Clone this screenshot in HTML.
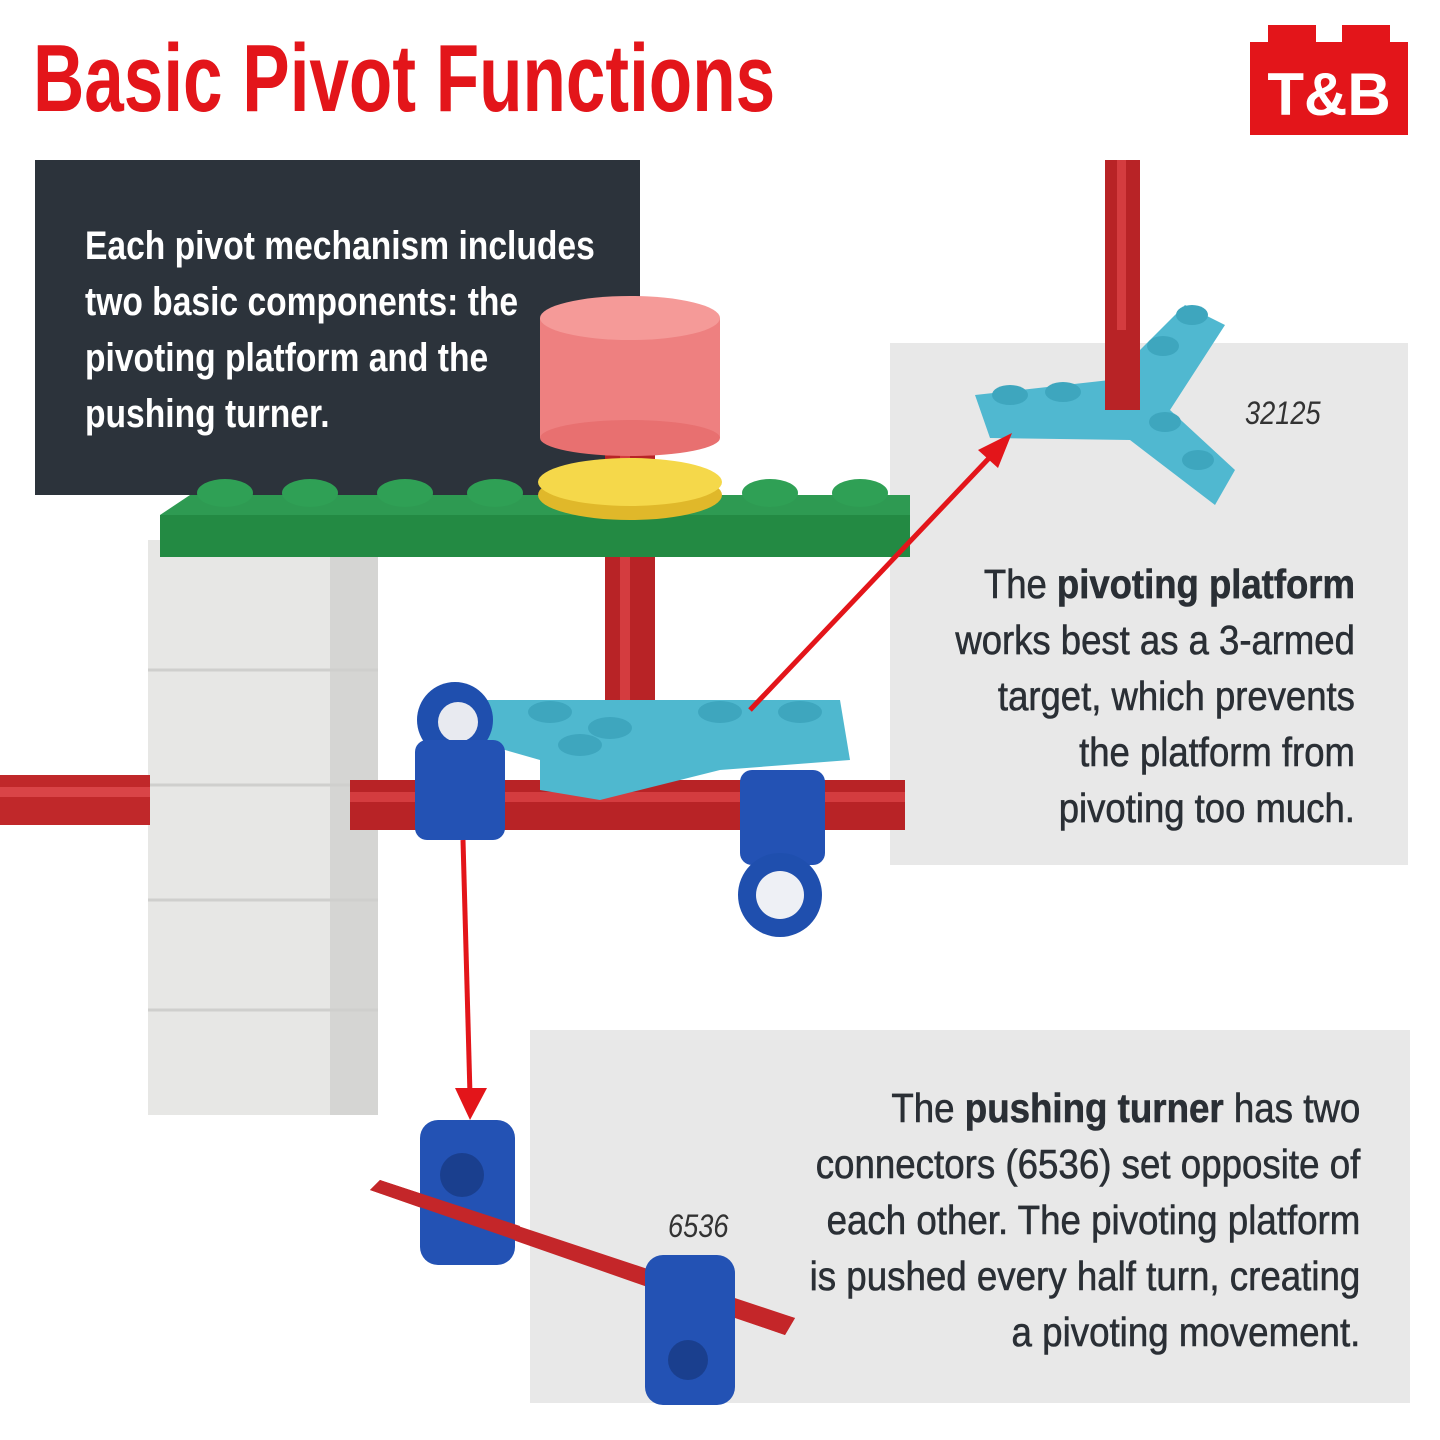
<!DOCTYPE html>
<html><head><meta charset="utf-8"><style>
html,body{margin:0;padding:0;background:#fff;}
body{width:1440px;height:1440px;position:relative;overflow:hidden;font-family:"Liberation Sans",sans-serif;}
.t{position:absolute;white-space:nowrap;}
#title{left:33px;top:24px;font-size:96px;color:#e3151a;font-weight:bold;transform:scaleX(0.74);transform-origin:0 0;}
#dark{position:absolute;left:35px;top:160px;width:605px;height:335px;background:#2c333b;overflow:hidden;}
#dark div{position:absolute;left:50px;top:58px;color:#fff;font-size:40px;font-weight:bold;line-height:56px;white-space:nowrap;transform:scaleX(0.84);transform-origin:0 0;}
.gray{position:absolute;background:#e8e8e8;}
.rt{position:absolute;text-align:right;color:#2a2f35;font-size:41px;line-height:56px;white-space:nowrap;transform-origin:100% 0;}
.rt b{font-weight:bold;}
.lbl{position:absolute;font-style:italic;color:#333;font-size:32px;transform:scaleX(0.85);transform-origin:0 0;}
</style></head><body>
<div class="gray" style="left:890px;top:343px;width:518px;height:522px;"></div>
<div class="gray" style="left:530px;top:1030px;width:880px;height:373px;"></div>
<div id="title" class="t">Basic Pivot Functions</div>
<div id="dark"><div>Each pivot mechanism includes<br>two basic components: the<br>pivoting platform and the<br>pushing turner.</div></div>

<svg width="1440" height="1440" style="position:absolute;left:0;top:0">
 <rect x="1268" y="25" width="48" height="25" fill="#e3151a"/>
 <rect x="1342" y="25" width="48" height="25" fill="#e3151a"/>
 <rect x="1250" y="42" width="158" height="93" fill="#e3151a"/>
 <text x="1329" y="115" text-anchor="middle" font-family="Liberation Sans" font-weight="bold" font-size="60" fill="#fff">T&amp;B</text>
 <rect x="148" y="540" width="230" height="575" fill="#e7e7e5"/>
 <rect x="330" y="540" width="48" height="575" fill="#d5d5d3"/>
 <g stroke="#cfcfcd" stroke-width="3"><line x1="148" y1="670" x2="378" y2="670"/><line x1="148" y1="785" x2="378" y2="785"/><line x1="148" y1="900" x2="378" y2="900"/><line x1="148" y1="1010" x2="378" y2="1010"/></g>
 <rect x="170" y="535" width="55" height="20" fill="#f0f0ee"/><rect x="265" y="535" width="55" height="20" fill="#f0f0ee"/>
 <rect x="0" y="775" width="150" height="50" fill="#c0282a"/>
 <rect x="0" y="787" width="150" height="10" fill="#d94447"/>
 <rect x="350" y="780" width="555" height="50" fill="#b82326"/>
 <rect x="350" y="792" width="555" height="10" fill="#d43c3f"/>
 <rect x="605" y="430" width="50" height="300" fill="#b82326"/>
 <rect x="620" y="430" width="10" height="300" fill="#d43c3f"/>
 <polygon points="160,515 190,495 910,495 910,530 160,530" fill="#2e9a52"/>
 <rect x="160" y="515" width="750" height="42" fill="#238a43"/>
 <g fill="#2fa055"><ellipse cx="225" cy="493" rx="28" ry="14"/><ellipse cx="310" cy="493" rx="28" ry="14"/><ellipse cx="405" cy="493" rx="28" ry="14"/><ellipse cx="495" cy="493" rx="28" ry="14"/><ellipse cx="770" cy="493" rx="28" ry="14"/><ellipse cx="860" cy="493" rx="28" ry="14"/></g>
 <ellipse cx="630" cy="495" rx="92" ry="25" fill="#e0b82a"/>
 <ellipse cx="630" cy="482" rx="92" ry="24" fill="#f5d84a"/>
 <rect x="540" y="318" width="180" height="120" fill="#ee8080"/>
 <ellipse cx="630" cy="438" rx="90" ry="18" fill="#e87070"/>
 <ellipse cx="630" cy="318" rx="90" ry="22" fill="#f59a98"/>
 <polygon points="470,700 840,700 850,760 720,770 600,800 540,790 540,760 470,740" fill="#4fb8cf"/>
 <g fill="#3ea6be"><ellipse cx="550" cy="712" rx="22" ry="11"/><ellipse cx="610" cy="728" rx="22" ry="11"/><ellipse cx="720" cy="712" rx="22" ry="11"/><ellipse cx="800" cy="712" rx="22" ry="11"/><ellipse cx="580" cy="745" rx="22" ry="11"/></g>
 <circle cx="455" cy="720" r="38" fill="#1f4fae"/><circle cx="458" cy="722" r="20" fill="#e8eaf0"/>
 <rect x="415" y="740" width="90" height="100" rx="12" fill="#2352b4"/>
 <rect x="740" y="770" width="85" height="95" rx="12" fill="#2352b4"/>
 <circle cx="780" cy="895" r="42" fill="#1f4fae"/><circle cx="780" cy="895" r="24" fill="#eef0f5"/>
 <rect x="1105" y="160" width="35" height="250" fill="#b82326"/>
 <rect x="1117" y="160" width="9" height="250" fill="#d43c3f"/>
 <polygon points="975,395 1110,380 1185,305 1225,325 1170,410 1235,470 1215,505 1130,440 990,438" fill="#50b8d0"/>
 <g fill="#3ea6be"><ellipse cx="1010" cy="395" rx="18" ry="10"/><ellipse cx="1063" cy="392" rx="18" ry="10"/><ellipse cx="1163" cy="346" rx="16" ry="10"/><ellipse cx="1192" cy="315" rx="16" ry="10"/><ellipse cx="1165" cy="422" rx="16" ry="10"/><ellipse cx="1198" cy="460" rx="16" ry="10"/></g>
 <rect x="1105" y="330" width="35" height="80" fill="#b82326"/>
 <polygon points="370,1190 380,1180 795,1318 785,1335" fill="#c42629"/>
 <rect x="420" y="1120" width="95" height="145" rx="18" fill="#2352b4"/>
 <circle cx="462" cy="1175" r="22" fill="#1a3f8e"/>
 <rect x="645" y="1255" width="90" height="150" rx="18" fill="#2352b4"/>
 <circle cx="688" cy="1360" r="20" fill="#1a3f8e"/>
 <polygon points="370,1190 380,1180 520,1226 515,1240" fill="#c42629"/>
 <polygon points="735,1300 795,1318 785,1335 735,1318" fill="#c42629"/>
 <g stroke="#e3151a" stroke-width="5" fill="#e3151a">
  <line x1="750" y1="710" x2="992" y2="455"/>
  <polygon points="1012,433 978,450 998,468" stroke="none"/>
  <line x1="463" y1="840" x2="470" y2="1095"/>
  <polygon points="470,1120 455,1088 487,1088" stroke="none"/>
 </g>
</svg>

<div class="lbl" style="left:1245px;top:395px;">32125</div>
<div class="lbl" style="left:668px;top:1208px;">6536</div>
<div class="rt" style="right:85px;top:556px;transform:scaleX(0.89);-webkit-text-stroke:0.6px #2a2f35;">The <b>pivoting platform</b><br>works best as a 3-armed<br>target, which prevents<br>the platform from<br>pivoting too much.</div>
<div class="rt" style="right:80px;top:1080px;transform:scaleX(0.895);-webkit-text-stroke:0.6px #2a2f35;">The <b>pushing turner</b> has two<br>connectors (6536) set opposite of<br>each other. The pivoting platform<br>is pushed every half turn, creating<br>a pivoting movement.</div>
</body></html>
